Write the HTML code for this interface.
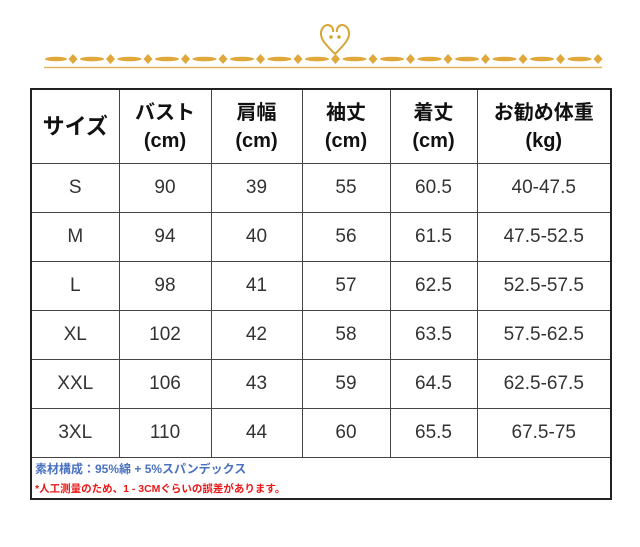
<!DOCTYPE html>
<html><head><meta charset="utf-8"><style>
body{margin:0;width:640px;height:547px;background:#fff;position:relative;overflow:hidden;font-family:"Liberation Sans","Noto Sans CJK JP",sans-serif}
table{position:absolute;left:30px;top:88px;border-collapse:collapse;width:582px}
td{border:1px solid #444;text-align:center;font-size:19px;color:#333;height:48px;padding:0}
tr.h td{height:73px;font-weight:bold;font-size:20px;line-height:28px;color:#111}
table{border:2px solid #222}
td.f{text-align:left;height:40px;padding-left:3px;line-height:18px}
</style></head><body>
<svg width="640" height="80" style="position:absolute;left:0;top:0">
<path d="M335 54 C325 44 318 37 322 29 C326 22 334 25 333 32 M335 54 C345 44 352 37 348 29 C344 22 336 25 337 32" fill="none" stroke="#d8a534" stroke-width="2"/>
<circle cx="331" cy="37" r="1.8" fill="#d8a534"/><circle cx="339" cy="37" r="1.8" fill="#d8a534"/>
<g fill="#e0a73a">
<ellipse cx="56" cy="59" rx="11" ry="2.3"/>
<ellipse cx="92" cy="59" rx="12" ry="2.3"/><ellipse cx="129.5" cy="59" rx="12" ry="2.3"/><ellipse cx="167" cy="59" rx="12" ry="2.3"/><ellipse cx="204.5" cy="59" rx="12" ry="2.3"/><ellipse cx="242" cy="59" rx="12" ry="2.3"/><ellipse cx="279.5" cy="59" rx="12" ry="2.3"/><ellipse cx="317" cy="59" rx="12" ry="2.3"/><ellipse cx="354.5" cy="59" rx="12" ry="2.3"/><ellipse cx="392" cy="59" rx="12" ry="2.3"/><ellipse cx="429.5" cy="59" rx="12" ry="2.3"/><ellipse cx="467" cy="59" rx="12" ry="2.3"/><ellipse cx="504.5" cy="59" rx="12" ry="2.3"/><ellipse cx="542" cy="59" rx="12" ry="2.3"/><ellipse cx="579.5" cy="59" rx="12" ry="2.3"/>
<path d="M73 54l4.5 5-4.5 5-4.5-5z M110.5 54l4.5 5-4.5 5-4.5-5z M148 54l4.5 5-4.5 5-4.5-5z M185.5 54l4.5 5-4.5 5-4.5-5z M223 54l4.5 5-4.5 5-4.5-5z M260.5 54l4.5 5-4.5 5-4.5-5z M298 54l4.5 5-4.5 5-4.5-5z M335.5 54l4.5 5-4.5 5-4.5-5z M373 54l4.5 5-4.5 5-4.5-5z M410.5 54l4.5 5-4.5 5-4.5-5z M448 54l4.5 5-4.5 5-4.5-5z M485.5 54l4.5 5-4.5 5-4.5-5z M523 54l4.5 5-4.5 5-4.5-5z M560.5 54l4.5 5-4.5 5-4.5-5z M598 54l4.5 5-4.5 5-4.5-5z"/>
</g>
<line x1="44" y1="67.5" x2="602" y2="67.5" stroke="#e2b660" stroke-width="1.6"/>
</svg>
<table>
<colgroup><col style="width:88px"><col style="width:92px"><col style="width:91px"><col style="width:88px"><col style="width:87px"><col></colgroup>
<tr class="h"><td style="font-size:22px">サイズ</td><td>バスト<br>(cm)</td><td>肩幅<br>(cm)</td><td>袖丈<br>(cm)</td><td>着丈<br>(cm)</td><td>お勧め体重<br>(kg)</td></tr>
<tr><td>S</td><td>90</td><td>39</td><td>55</td><td>60.5</td><td>40-47.5</td></tr>
<tr><td>M</td><td>94</td><td>40</td><td>56</td><td>61.5</td><td>47.5-52.5</td></tr>
<tr><td>L</td><td>98</td><td>41</td><td>57</td><td>62.5</td><td>52.5-57.5</td></tr>
<tr><td>XL</td><td>102</td><td>42</td><td>58</td><td>63.5</td><td>57.5-62.5</td></tr>
<tr><td>XXL</td><td>106</td><td>43</td><td>59</td><td>64.5</td><td>62.5-67.5</td></tr>
<tr><td>3XL</td><td>110</td><td>44</td><td>60</td><td>65.5</td><td>67.5-75</td></tr>
<tr><td colspan="6" class="f"><span style="color:#4a72c0;font-size:12px;font-weight:bold">素材構成：95%綿 + 5%スパンデックス</span><br><span style="color:#e81818;font-size:10.5px;font-weight:bold">*人工測量のため、1 - 3CMぐらいの誤差があります。</span></td></tr>
</table>
</body></html>
